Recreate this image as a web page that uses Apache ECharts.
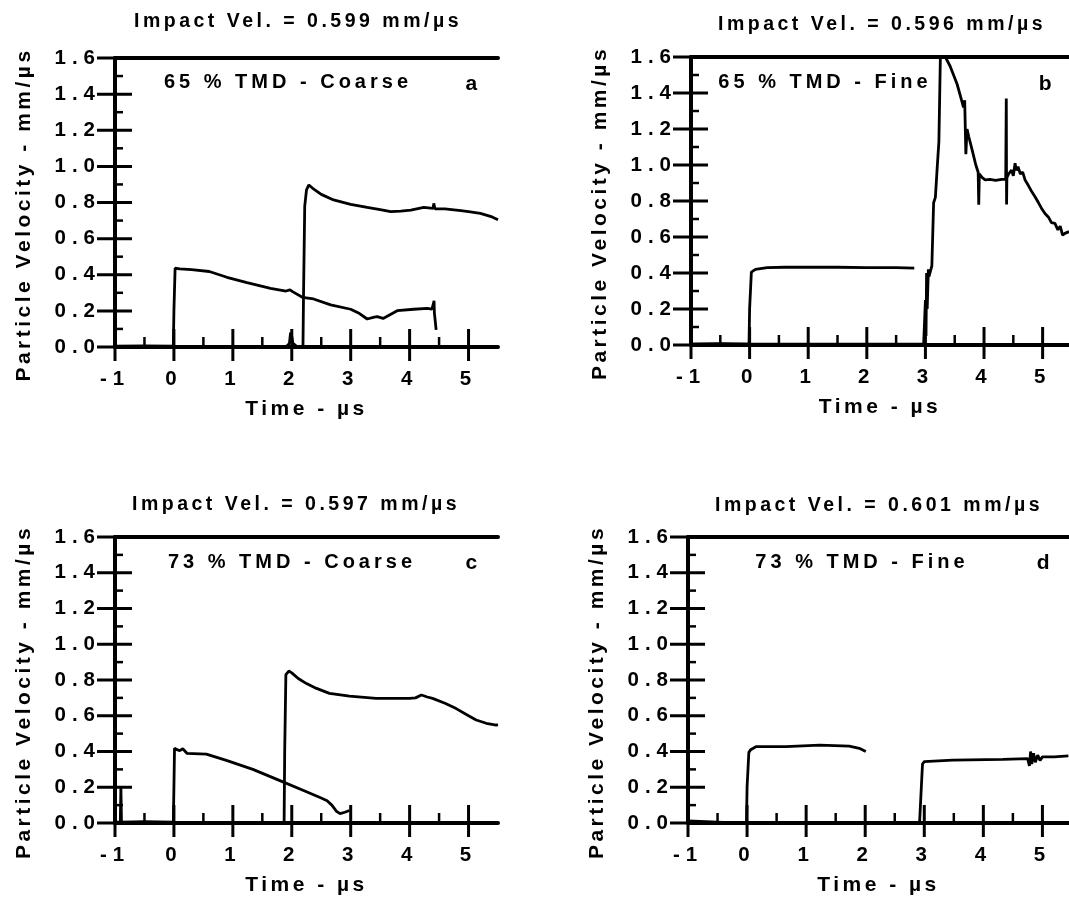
<!DOCTYPE html>
<html>
<head>
<meta charset="utf-8">
<script src="https://cdn.jsdelivr.net/npm/echarts@6/dist/echarts.min.js"></script>
<style>
  html, body { margin: 0; padding: 0; background: #fff; }
  #main { width: 1069px; height: 902px; }
</style>
</head>
<body>
<div id="main"></div>
<script>
// tick values shared by the four panels
var xTicks = [-1, 0, 1, 2, 3, 4, 5];
var xMinor = [-0.5, 0.5, 1.5, 2.5, 3.5, 4.5];
var yTicks = [0, 0.2, 0.4, 0.6, 0.8, 1.0, 1.2, 1.4, 1.6];
var yMinor = [0.1, 0.3, 0.5, 0.7, 0.9, 1.1, 1.3, 1.5];

var titles = ['Impact Vel. = 0.599 mm/\u00b5s', 'Impact Vel. = 0.596 mm/\u00b5s',
              'Impact Vel. = 0.597 mm/\u00b5s', 'Impact Vel. = 0.601 mm/\u00b5s'];
var labels = ['65 % TMD - Coarse', '65 % TMD - Fine', '73 % TMD - Coarse', '73 % TMD - Fine'];
var letters = ['a', 'b', 'c', 'd'];

// a : 65 % TMD coarse
var traceA1 = [[-1, 0.005], [-0.5, 0.006], [-0.01, 0.005], [0, 0.2], [0.02, 0.436], [0.1, 0.432],
  [0.3, 0.428], [0.6, 0.418], [0.9, 0.386], [1.24, 0.356], [1.64, 0.325], [1.9, 0.31], [1.97, 0.316],
  [2.02, 0.305], [2.18, 0.275], [2.37, 0.266], [2.66, 0.233], [3.0, 0.209], [3.15, 0.185], [3.28, 0.155],
  [3.4, 0.165], [3.45, 0.168], [3.55, 0.158], [3.79, 0.201], [4.07, 0.209], [4.3, 0.214], [4.38, 0.21],
  [4.41, 0.205], [4.415, 0.256], [4.42, 0.19], [4.45, 0.095]];
var traceA2 = [[-1, 0], [1.9, 0], [1.96, 0.02], [1.98, 0.08], [2.0, 0.06], [2.02, 0.02], [2.1, 0], [2.19, 0],
  [2.2, 0.3], [2.22, 0.78], [2.25, 0.87], [2.29, 0.897], [2.35, 0.88], [2.5, 0.845], [2.71, 0.814],
  [3.0, 0.79], [3.28, 0.773], [3.5, 0.76], [3.68, 0.749], [3.85, 0.752], [4.02, 0.758], [4.24, 0.773],
  [4.4, 0.768], [4.41, 0.795], [4.43, 0.765], [4.6, 0.765], [4.87, 0.755], [5.0, 0.75], [5.2, 0.74],
  [5.4, 0.72], [5.5, 0.705]];

// b : 65 % TMD fine
var traceB1 = [[-1, 0.005], [-0.5, 0.008], [-0.01, 0.005], [0, 0.2], [0.03, 0.405], [0.1, 0.42],
  [0.3, 0.43], [0.6, 0.432], [1.0, 0.432], [1.5, 0.432], [2.0, 0.43], [2.5, 0.43], [2.81, 0.427]];
var traceB2 = [[-1, 0.005], [2.97, 0.005], [2.99, 0.005], [3.0, 0.25], [3.01, 0.05], [3.02, 0.4],
  [3.03, 0.2], [3.05, 0.42], [3.06, 0.38], [3.11, 0.44], [3.14, 0.79], [3.17, 0.82], [3.2, 0.98],
  [3.23, 1.13], [3.255, 1.6], [3.28, 1.7], [3.32, 1.7], [3.34, 1.6], [3.42, 1.55], [3.54, 1.45],
  [3.6, 1.38], [3.65, 1.32], [3.67, 1.36], [3.69, 1.06], [3.71, 1.2], [3.74, 1.157], [3.8, 1.08],
  [3.86, 1.0], [3.9, 0.96], [3.91, 0.78], [3.92, 0.95], [3.97, 0.93], [4.02, 0.917], [4.1, 0.92],
  [4.2, 0.915], [4.3, 0.92], [4.37, 0.92], [4.38, 1.37], [4.385, 0.78], [4.39, 0.93], [4.42, 0.95],
  [4.47, 0.972], [4.5, 0.94], [4.53, 1.01], [4.55, 0.97], [4.58, 0.99], [4.62, 0.95], [4.66, 0.96],
  [4.7, 0.917], [4.75, 0.89], [4.8, 0.86], [4.87, 0.824], [4.93, 0.79], [4.98, 0.76], [5.04, 0.73],
  [5.1, 0.71], [5.15, 0.68], [5.21, 0.676], [5.26, 0.64], [5.3, 0.66], [5.34, 0.61], [5.38, 0.62],
  [5.45, 0.63]];

// c : 73 % TMD coarse
var traceC1 = [[-1, 0.005], [-0.91, 0.005], [-0.9, 0.2], [-0.89, 0.005], [-0.5, 0.008], [-0.01, 0.005],
  [0, 0.2], [0.01, 0.418], [0.05, 0.41], [0.1, 0.405], [0.15, 0.415], [0.22, 0.39], [0.55, 0.385],
  [0.89, 0.35], [1.34, 0.3], [1.85, 0.23], [2.25, 0.175], [2.5, 0.14], [2.6, 0.125], [2.68, 0.1],
  [2.76, 0.065], [2.82, 0.052], [2.9, 0.06], [2.98, 0.07]];
var traceC2 = [[-1, 0], [1.87, 0], [1.88, 0.4], [1.9, 0.83], [1.95, 0.85], [2.0, 0.84], [2.11, 0.808],
  [2.25, 0.78], [2.42, 0.753], [2.64, 0.725], [2.98, 0.71], [3.43, 0.697], [4.0, 0.697], [4.1, 0.7],
  [4.2, 0.716], [4.3, 0.705], [4.39, 0.697], [4.6, 0.67], [4.79, 0.64], [5.0, 0.6], [5.13, 0.576],
  [5.3, 0.558], [5.47, 0.548], [5.5, 0.55]];

// d : 73 % TMD fine
var traceD1 = [[-1, 0.012], [-0.7, 0.008], [-0.3, 0.002], [-0.01, 0], [0, 0.2], [0.03, 0.395],
  [0.06, 0.41], [0.15, 0.427], [0.66, 0.427], [1.23, 0.436], [1.73, 0.43], [1.9, 0.418], [2.01, 0.4]];
var traceD2 = [[-1, 0], [2.92, 0], [2.95, 0.2], [2.97, 0.33], [3.0, 0.343], [3.48, 0.352], [4.33, 0.356],
  [4.75, 0.36], [4.78, 0.32], [4.8, 0.4], [4.82, 0.33], [4.85, 0.39], [4.88, 0.34], [4.92, 0.38],
  [4.96, 0.35], [5.0, 0.37], [5.2, 0.37], [5.44, 0.375]];

var traces = [[traceA1, traceA2], [traceB1, traceB2], [traceC1, traceC2], [traceD1, traceD2]];

// wide tracking like the original typesetting (canvas letterSpacing, keyed by font size)
var spacingBySize = { '19.5': '3.5px', '20': '4px', '20.5': '6px', '21': '3.5px' };
var baseFillText = CanvasRenderingContext2D.prototype.fillText;
CanvasRenderingContext2D.prototype.fillText = function () {
  var m = /([\d.]+)px/.exec(this.font);
  this.letterSpacing = (m && spacingBySize[m[1]]) || '0px';
  return baseFillText.apply(this, arguments);
};

var FONT = '"Liberation Sans", Arial, Helvetica, sans-serif';
var txt = function (size) {
  return { color: '#000', fontFamily: FONT, fontWeight: 'bold', fontSize: size };
};
var black = function (w) { return { color: '#000', width: w }; };

// panel boxes (pixels) and the time range each one shows
var grids = [
  { left: 115, top: 58, width: 383, height: 289 },
  { left: 691, top: 57, width: 380, height: 288 },
  { left: 115, top: 537, width: 383, height: 286 },
  { left: 688, top: 537, width: 381, height: 286 }
];
var xMax = [5.5, 5.45, 5.5, 5.45];
var closed = [true, false, true, false];

// tick marks: [x, y, kind]  kind 0 = x major, 1 = x minor, 2 = y major, 3 = y minor
var tickData = [];
xTicks.forEach(function (v) { tickData.push([v, 0, 0]); });
xMinor.forEach(function (v) { tickData.push([v, 0, 1]); });
yTicks.forEach(function (v) { tickData.push([-1, v, 2]); });
yMinor.forEach(function (v) { tickData.push([-1, v, 3]); });

function renderTick(params, api) {
  var p = api.coord([api.value(0), api.value(1)]);
  var k = api.value(2);
  var s;
  if (k === 0) s = { x1: p[0], y1: p[1] - 18, x2: p[0], y2: p[1] + 14 };
  else if (k === 1) s = { x1: p[0], y1: p[1] - 10, x2: p[0], y2: p[1] };
  else if (k === 2) s = { x1: p[0] - 18, y1: p[1], x2: p[0] + 17, y2: p[1] };
  else s = { x1: p[0], y1: p[1], x2: p[0] + 8, y2: p[1] };
  return { type: 'line', shape: s, style: { stroke: '#000', lineWidth: (k % 2) ? 2.5 : 3 } };
}

var xAxes = [], yAxes = [], series = [], graphics = [];

grids.forEach(function (g, i) {
  var xi = xAxes.length, yi = yAxes.length;
  var xb = { gridIndex: i, type: 'value', min: -1, max: xMax[i], splitLine: { show: false } };
  var yb = { gridIndex: i, type: 'value', min: 0, max: 1.6, splitLine: { show: false } };

  xAxes.push(Object.assign({}, xb, {
    position: 'bottom',
    axisLine: { show: true, onZero: false, lineStyle: black(4) },
    axisTick: { show: false },
    axisLabel: Object.assign(txt(20.5), { margin: 22, customValues: xTicks }),
    name: 'Time - \u00b5s', nameLocation: 'middle', nameGap: 52, nameTextStyle: txt(21)
  }));
  // top frame line
  xAxes.push(Object.assign({}, xb, {
    position: 'top', axisLine: { show: true, onZero: false, lineStyle: black(4) },
    axisTick: { show: false }, axisLabel: { show: false }
  }));

  yAxes.push(Object.assign({}, yb, {
    position: 'left', interval: 0.2,
    axisLine: { show: true, onZero: false, lineStyle: black(4) },
    axisTick: { show: false },
    axisLabel: Object.assign(txt(20.5), {
      margin: 14,
      formatter: function (v) { return v.toFixed(1); }
    }),
    name: 'Particle Velocity - mm/\u00b5s', nameLocation: 'middle', nameGap: 80,
    nameTextStyle: Object.assign(txt(21), { padding: [0, 24, 0, 0] })
  }));
  if (closed[i]) {
    yAxes.push(Object.assign({}, yb, {
      position: 'right', axisLine: { show: true, onZero: false, lineStyle: black(3) },
      axisTick: { show: false }, axisLabel: { show: false }
    }));
  }

  traces[i].forEach(function (tr) {
    series.push({
      type: 'line', xAxisIndex: xi, yAxisIndex: yi, data: tr,
      showSymbol: false, symbol: 'none', clip: true,
      lineStyle: { color: '#000', width: 2.8 }
    });
  });
  series.push({
    type: 'custom', xAxisIndex: xi, yAxisIndex: yi, data: tickData,
    renderItem: renderTick, clip: false, silent: true, z: 3
  });
});

// panel titles and in-plot labels
var titlePos = [[298, 22], [882, 25], [296, 505], [879, 506]];
var labelPos = [[288, 82], [825, 82], [292, 562], [862, 562]];
var letterPos = [[473, 84], [1047, 84], [473, 563], [1045, 563]];
function addText(s, p, size) {
  graphics.push({
    type: 'text', x: p[0], y: p[1],
    style: { text: s, font: 'bold ' + size + 'px ' + FONT, fill: '#000',
             textAlign: 'center', textVerticalAlign: 'middle' }
  });
}
for (var k = 0; k < 4; k++) {
  addText(titles[k], titlePos[k], 19.5);
  addText(labels[k], labelPos[k], 20);
  addText(letters[k], letterPos[k], 21);
}

var myChart = echarts.init(document.getElementById('main'));
myChart.setOption({
  animation: false,
  backgroundColor: '#fff',
  grid: grids,
  xAxis: xAxes,
  yAxis: yAxes,
  series: series,
  graphic: graphics
});
</script>
</body>
</html>
